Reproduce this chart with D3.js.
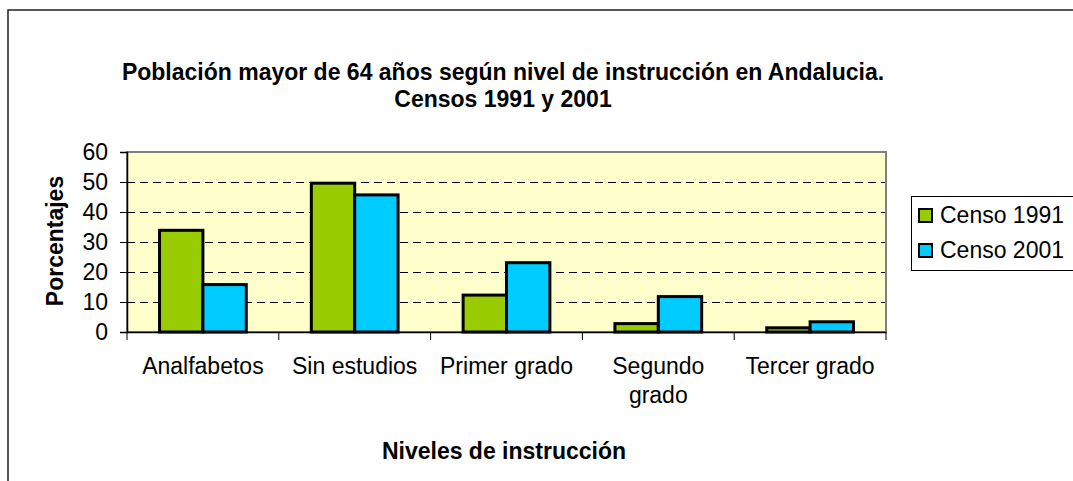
<!DOCTYPE html>
<html>
<head>
<meta charset="utf-8">
<script src="https://cdn.jsdelivr.net/npm/d3@7"></script>
<style>
  body { margin: 0; background: #fff; }
  text { font-family: "Liberation Sans", Arial, sans-serif; fill: #000; }
</style>
</head>
<body>
<div id="chart"></div>
<script>
// data
var categories = ["Analfabetos", "Sin estudios", "Primer grado", "Segundo grado", "Tercer grado"];
var seriesNames = ["Censo 1991", "Censo 2001"];
var censo1991 = [33.9, 49.6, 12.3, 2.8, 1.4];
var censo2001 = [15.8, 45.7, 23.1, 11.8, 3.4];
var yTicks = [0, 10, 20, 30, 40, 50, 60];
var colors = ["#99cc00", "#00ccff"];

var svgWidth = 1073;
var svgHeight = 481;
var fs = "23px";

var plot = { left: 127, top: 152, right: 886, bottom: 332 };

var svg = d3.select("#chart")
    .append("svg")
    .attr("width", svgWidth)
    .attr("height", svgHeight);

// outer chart border (runs off right and bottom)
svg.append("rect")
    .attr("x", 8).attr("y", 10)
    .attr("width", 1100).attr("height", 500)
    .attr("fill", "#fff")
    .attr("stroke", "#222")
    .attr("stroke-width", 1.5);

// title
var title = svg.append("text")
    .attr("text-anchor", "middle")
    .style("font-size", fs)
    .style("font-weight", "bold");
title.append("tspan").attr("x", 503).attr("y", 80)
    .text("Población mayor de 64 años según nivel de instrucción en Andalucia.");
title.append("tspan").attr("x", 503).attr("y", 107)
    .text("Censos 1991 y 2001");

var x0 = d3.scaleBand()
    .domain(categories)
    .range([plot.left, plot.right])
    .paddingInner(0)
    .paddingOuter(0);

var x1 = d3.scaleBand()
    .domain(seriesNames)
    .range([0, x0.bandwidth()])
    .paddingOuter(0.75);

var y = d3.scaleLinear()
    .domain([0, 60])
    .range([plot.bottom, plot.top]);

// plot area
svg.append("rect")
    .attr("x", plot.left).attr("y", plot.top)
    .attr("width", plot.right - plot.left)
    .attr("height", plot.bottom - plot.top)
    .attr("fill", "#ffffcc")
    .attr("stroke", "#808080")
    .attr("stroke-width", 2);

// dashed gridlines
svg.append("g")
    .selectAll("line")
    .data(yTicks.filter(d => d > 0 && d < 60))
    .enter()
    .append("line")
    .attr("x1", plot.left).attr("x2", plot.right - 1)
    .attr("y1", d => Math.round(y(d)) + 0.5)
    .attr("y2", d => Math.round(y(d)) + 0.5)
    .attr("stroke", "#000")
    .attr("stroke-dasharray", "8,5");

// bars
var table = categories.map((c, i) => ({ cat: c, values: [censo1991[i], censo2001[i]] }));

var groups = svg.append("g")
    .selectAll("g")
    .data(table)
    .enter()
    .append("g")
    .attr("transform", d => `translate(${x0(d.cat)},0)`);

groups.selectAll("rect")
    .data(d => d.values.map((v, j) => ({ name: seriesNames[j], value: v, j: j })))
    .enter()
    .append("rect")
    .attr("x", d => x1(d.name))
    .attr("y", d => y(d.value))
    .attr("width", x1.bandwidth())
    .attr("height", d => y(0) - y(d.value))
    .attr("fill", d => colors[d.j])
    .attr("stroke", "#000")
    .attr("stroke-width", 3);

// y axis
var leftAxis = d3.axisLeft(y)
    .tickValues(yTicks)
    .tickSize(7)
    .tickPadding(12);

var yAxisG = svg.append("g")
    .attr("transform", `translate(${plot.left},0)`)
    .call(leftAxis);
yAxisG.select(".domain").attr("stroke", "#000").attr("stroke-width", 1.5);
yAxisG.selectAll(".tick line").attr("stroke", "#000");
yAxisG.selectAll(".tick text")
    .style("font-size", fs)
    .style("font-family", "Liberation Sans, Arial, sans-serif")
    .attr("fill", "#000");

// x axis
var bottomAxis = d3.axisBottom(x0).tickSize(0).tickFormat("");
var xAxisG = svg.append("g")
    .attr("transform", `translate(0,${plot.bottom})`)
    .call(bottomAxis);
xAxisG.select(".domain").attr("stroke", "#000").attr("stroke-width", 1.5);

// category boundary ticks
var bounds = categories.map(c => x0(c)).concat([plot.right]);
svg.append("g")
    .selectAll("line")
    .data(bounds)
    .enter()
    .append("line")
    .attr("x1", d => d).attr("x2", d => d)
    .attr("y1", plot.bottom).attr("y2", plot.bottom + 8)
    .attr("stroke", "#000");

// category labels (wrapped like the original)
var catLines = { "Segundo grado": ["Segundo", "grado"] };
svg.append("g")
    .selectAll("text")
    .data(categories)
    .enter()
    .append("text")
    .attr("text-anchor", "middle")
    .style("font-size", fs)
    .each(function(d) {
        var lines = catLines[d] || [d];
        var t = d3.select(this);
        lines.forEach(function(l, i) {
            t.append("tspan")
                .attr("x", x0(d) + x0.bandwidth() / 2)
                .attr("y", 374 + i * 29)
                .text(l);
        });
    });

// axis titles
svg.append("text")
    .attr("x", 504).attr("y", 459)
    .attr("text-anchor", "middle")
    .style("font-size", fs)
    .style("font-weight", "bold")
    .text("Niveles de instrucción");

svg.append("text")
    .attr("transform", `translate(63, 241) rotate(-90)`)
    .attr("text-anchor", "middle")
    .style("font-size", fs)
    .style("font-weight", "bold")
    .text("Porcentajes");

// legend
var legend = svg.append("g");
legend.append("rect")
    .attr("x", 911.5).attr("y", 196.5)
    .attr("width", 170).attr("height", 74)
    .attr("fill", "#fff")
    .attr("stroke", "#000");

var legendItems = legend.selectAll("g")
    .data(seriesNames)
    .enter()
    .append("g")
    .attr("transform", (d, i) => `translate(0,${i * 35})`);

legendItems.append("rect")
    .attr("x", 919).attr("y", 209)
    .attr("width", 13).attr("height", 13)
    .attr("fill", (d, i) => colors[i])
    .attr("stroke", "#000")
    .attr("stroke-width", 2);

legendItems.append("text")
    .attr("x", 940).attr("y", 223)
    .style("font-size", fs)
    .text(d => d);
</script>
</body>
</html>
